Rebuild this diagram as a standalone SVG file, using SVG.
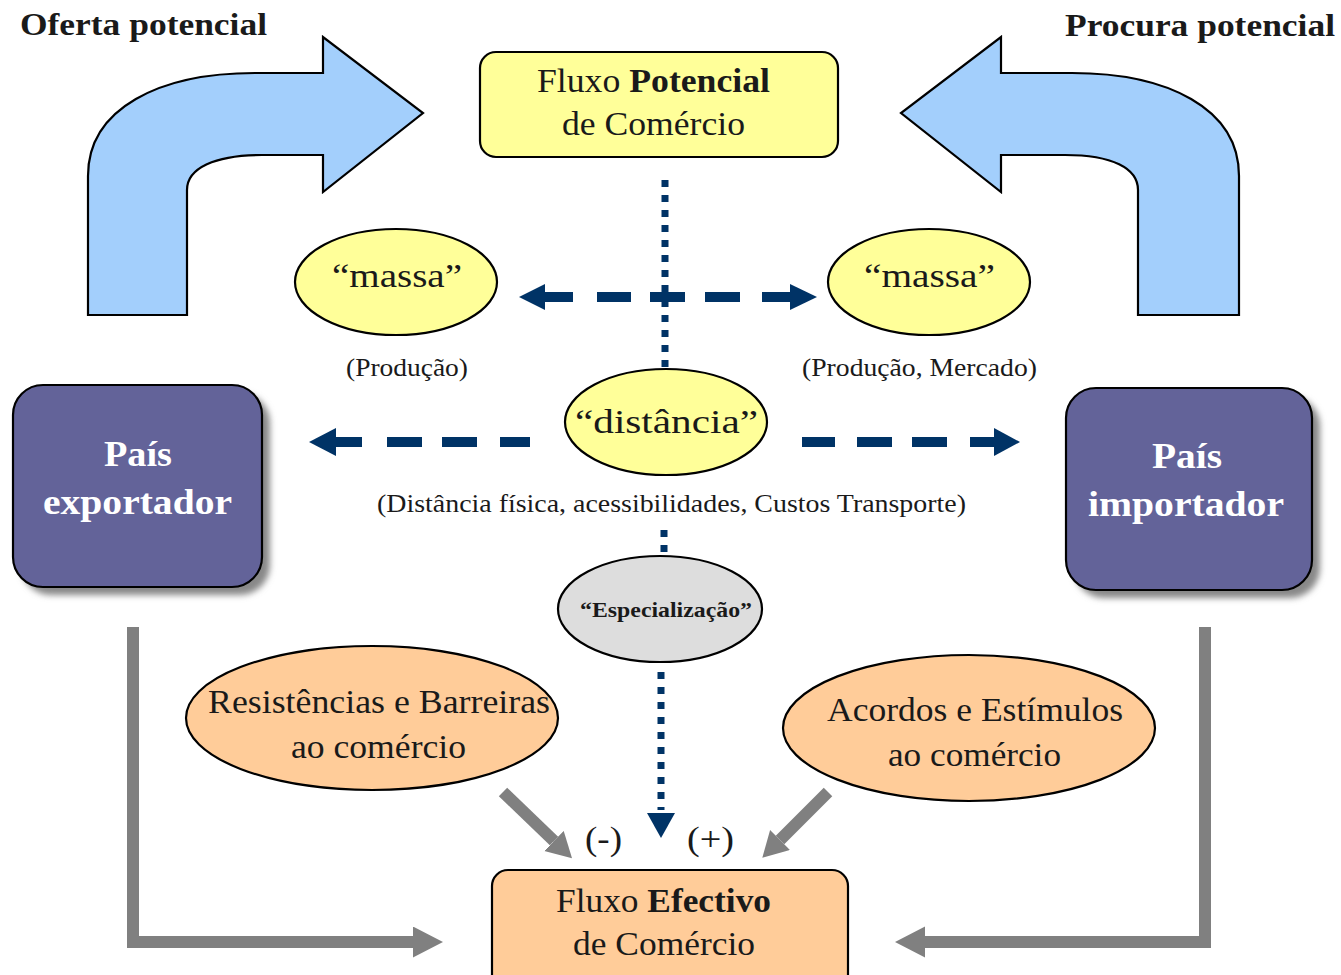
<svg xmlns="http://www.w3.org/2000/svg" width="1341" height="975" viewBox="0 0 1341 975" font-family="'Liberation Serif', 'Times New Roman', Tinos, serif">
<style>
text{font-family:'Liberation Serif','Times New Roman',Tinos,serif;fill:#1a1a1a}
.t{font-weight:bold;font-size:32px}
.big{font-size:33px}
.sm{font-size:25px}
.w{fill:#ffffff;font-weight:bold;font-size:36px}
.ol{stroke:#000;stroke-width:2.2}
.curve{fill:#a3cffc;stroke:#000;stroke-width:2.2;stroke-linejoin:miter}
.nav{stroke:#003366;fill:none}
.gr{stroke:#808080;fill:none;stroke-width:12}
</style>
<defs>
<filter id="blur" x="-10%" y="-10%" width="120%" height="120%"><feGaussianBlur stdDeviation="3"/></filter>
<marker id="gh" markerUnits="userSpaceOnUse" markerWidth="32" markerHeight="32" refX="0" refY="15.5" orient="auto"><path d="M0,0 L30,15.5 L0,31 Z" fill="#808080"/></marker>
<marker id="gh2" markerUnits="userSpaceOnUse" markerWidth="28" markerHeight="30" refX="0" refY="14" orient="auto"><path d="M0,0 L25,14 L0,28 Z" fill="#808080"/></marker>
</defs>

<g id="titles">
<text class="t" x="20" y="35" textLength="247" lengthAdjust="spacingAndGlyphs">Oferta potencial</text>
<text class="t" x="1065" y="36" textLength="270" lengthAdjust="spacingAndGlyphs">Procura potencial</text>
</g>

<g id="oferta-arrow">
<path class="curve" d="M88,315 L88,176 C88,108 160,73 255,73 L323,73 L323,37 L423,113 L323,192 L323,155 L262,155 C215,155 187,168 187,190 L187,315 Z"/>
</g>
<g id="procura-arrow">
<path class="curve" d="M1239,315 L1239,176 C1239,108 1167,73 1072,73 L1001,73 L1001,37 L901,113 L1001,192 L1001,155 L1065,155 C1112,155 1138,168 1138,190 L1138,315 Z"/>
</g>

<g id="connectors">
<line class="nav" x1="665" y1="180" x2="665" y2="368" stroke-width="7" stroke-dasharray="7 8"/>
<line class="nav" x1="664" y1="530" x2="664" y2="552" stroke-width="7" stroke-dasharray="7 8"/>
<line class="nav" x1="661" y1="672" x2="661" y2="810" stroke-width="7" stroke-dasharray="7 8"/>
<polygon points="647,813 675,813 661,838" fill="#003366"/>
<path class="nav" stroke-width="10" d="M542,297 H573 M597,297 H631 M650,297 H685 M705,297 H740 M762,297 H793"/>
<polygon points="519,297 545,284 545,310" fill="#003366"/>
<polygon points="817,297 790,284 790,310" fill="#003366"/>
<path class="nav" stroke-width="10" d="M333,442 H362 M387,442 H422 M442,442 H477 M500,442 H530 M802,442 H835 M857,442 H892 M912,442 H947 M970,442 H998"/>
<polygon points="309,442 336,428 336,456" fill="#003366"/>
<polygon points="1020,442 994,428 994,456" fill="#003366"/>
<path class="gr" d="M133,627 V942 H413" stroke-linejoin="miter" marker-end="url(#gh)"/>
<path class="gr" d="M1205,627 V942 H925" stroke-linejoin="miter" marker-end="url(#gh)"/>
<line class="gr" x1="503" y1="792" x2="554" y2="841" marker-end="url(#gh2)"/>
<line class="gr" x1="828" y1="792" x2="780" y2="840" marker-end="url(#gh2)"/>
<text class="big" x="585" y="850" textLength="37" lengthAdjust="spacingAndGlyphs">(-)</text>
<text class="big" x="687" y="850" textLength="47" lengthAdjust="spacingAndGlyphs">(+)</text>
</g>

<g id="fluxo-potencial">
<rect class="ol" x="480" y="52" width="358" height="105" rx="16" fill="#ffff99"/>
<text class="big" x="537" y="92" textLength="233" lengthAdjust="spacingAndGlyphs">Fluxo <tspan font-weight="bold">Potencial</tspan></text>
<text class="big" x="562" y="135" textLength="183" lengthAdjust="spacingAndGlyphs">de Comércio</text>
</g>

<g id="massa-left">
<ellipse class="ol" cx="396" cy="282" rx="101" ry="53" fill="#ffff99"/>
<text class="big" x="332" y="287" textLength="130" lengthAdjust="spacingAndGlyphs">“massa”</text>
<text class="sm" x="346" y="376" textLength="122" lengthAdjust="spacingAndGlyphs">(Produção)</text>
</g>

<g id="massa-right">
<ellipse class="ol" cx="929" cy="282" rx="101" ry="53" fill="#ffff99"/>
<text class="big" x="864" y="287" textLength="131" lengthAdjust="spacingAndGlyphs">“massa”</text>
<text class="sm" x="802" y="376" textLength="235" lengthAdjust="spacingAndGlyphs">(Produção, Mercado)</text>
</g>

<g id="distancia">
<ellipse class="ol" cx="666" cy="422" rx="101" ry="53" fill="#ffff99"/>
<text class="big" x="575" y="433" textLength="183" lengthAdjust="spacingAndGlyphs">“distância”</text>
<text class="sm" x="377" y="512" textLength="589" lengthAdjust="spacingAndGlyphs">(Distância física, acessibilidades, Custos Transporte)</text>
</g>

<g id="pais-exportador">
<rect x="21" y="393" width="249" height="202" rx="30" fill="#888" filter="url(#blur)"/>
<rect class="ol" x="13" y="385" width="249" height="202" rx="30" fill="#636399"/>
<text class="w" x="104" y="466" textLength="68" lengthAdjust="spacingAndGlyphs">País</text>
<text class="w" x="43" y="514" textLength="189" lengthAdjust="spacingAndGlyphs">exportador</text>
</g>

<g id="pais-importador">
<rect x="1074" y="396" width="246" height="202" rx="30" fill="#888" filter="url(#blur)"/>
<rect class="ol" x="1066" y="388" width="246" height="202" rx="30" fill="#636399"/>
<text class="w" x="1152" y="468" textLength="70" lengthAdjust="spacingAndGlyphs">País</text>
<text class="w" x="1088" y="516" textLength="196" lengthAdjust="spacingAndGlyphs">importador</text>
</g>

<g id="especializacao">
<ellipse class="ol" cx="660" cy="609" rx="102" ry="53" fill="#dddddd"/>
<text x="580" y="617" font-size="21" font-weight="bold" textLength="172" lengthAdjust="spacingAndGlyphs">“Especialização”</text>
</g>

<g id="resistencias">
<ellipse class="ol" cx="372" cy="718" rx="186" ry="72" fill="#ffcc99"/>
<text class="big" x="208" y="713" textLength="342" lengthAdjust="spacingAndGlyphs">Resistências e Barreiras</text>
<text class="big" x="291" y="758" textLength="175" lengthAdjust="spacingAndGlyphs">ao comércio</text>
</g>

<g id="acordos">
<ellipse class="ol" cx="969" cy="728" rx="186" ry="73" fill="#ffcc99"/>
<text class="big" x="827" y="721" textLength="296" lengthAdjust="spacingAndGlyphs">Acordos e Estímulos</text>
<text class="big" x="888" y="766" textLength="173" lengthAdjust="spacingAndGlyphs">ao comércio</text>
</g>

<g id="fluxo-efectivo">
<rect class="ol" x="492" y="870" width="356" height="125" rx="16" fill="#ffcc99"/>
<text class="big" x="556" y="912" textLength="215" lengthAdjust="spacingAndGlyphs">Fluxo <tspan font-weight="bold">Efectivo</tspan></text>
<text class="big" x="573" y="955" textLength="182" lengthAdjust="spacingAndGlyphs">de Comércio</text>
</g>
</svg>
